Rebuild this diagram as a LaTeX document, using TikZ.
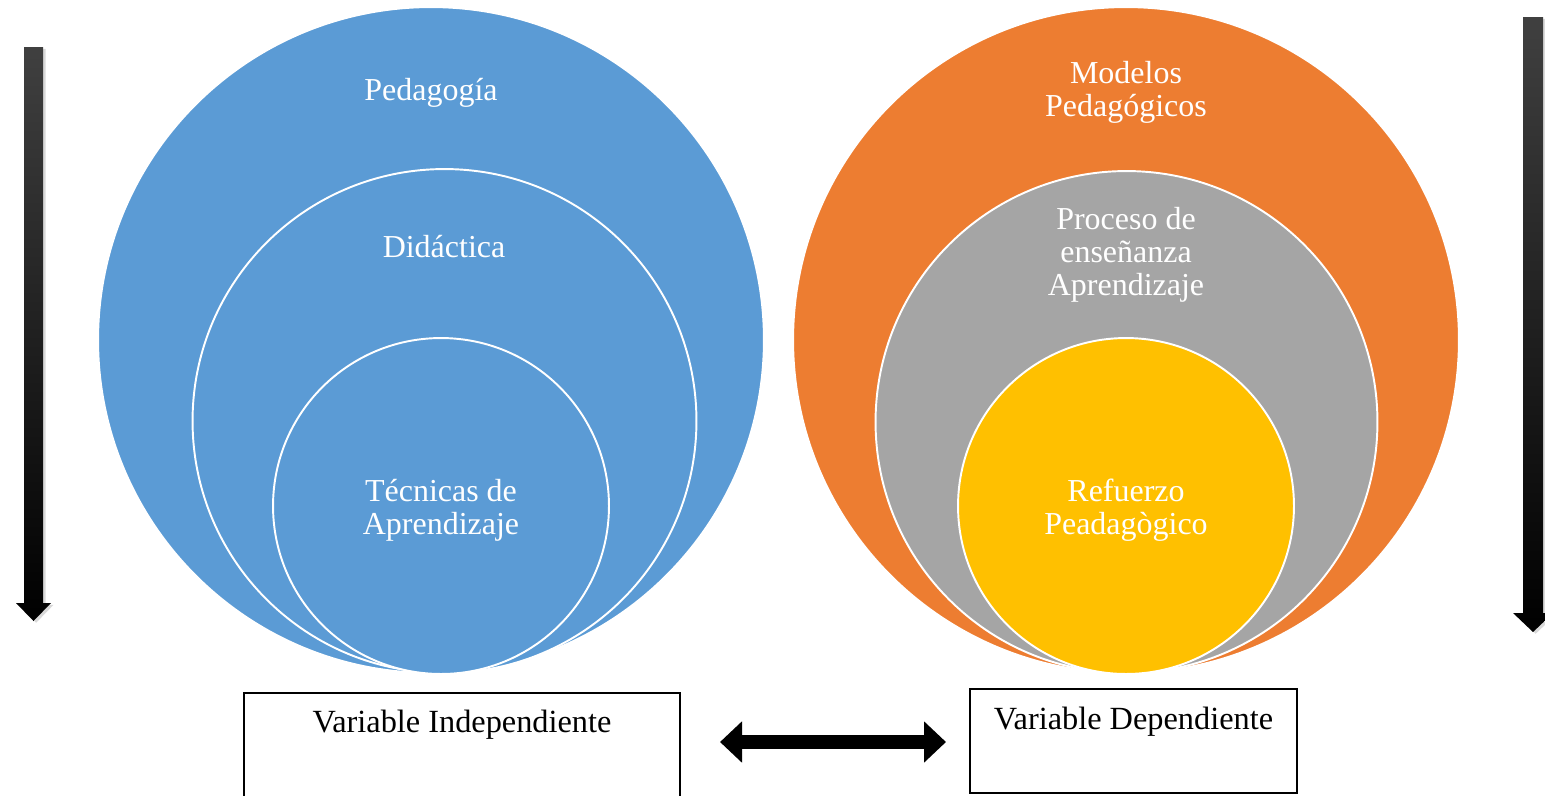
\documentclass[tikz,border=0pt]{standalone}
\usepackage{fontspec}
\setmainfont{Liberation Serif}
\usetikzlibrary{arrows.meta,shadows}
\definecolor{pedblue}{HTML}{5B9BD5}
\definecolor{modorange}{HTML}{ED7D31}
\definecolor{progray}{HTML}{A5A5A5}
\definecolor{refyellow}{HTML}{FFC000}

\begin{document}
\begin{tikzpicture}[x=0.02cm,y=-0.02cm,
  ring/.style={draw=white,line width=1.1pt},
  ctext/.style={text=white,font=\fontsize{18.2}{18.8}\selectfont,align=center,inner sep=0pt},
  varbox/.style={draw,line width=1.1pt,inner sep=0pt,font=\fontsize{18.4}{20}\selectfont,anchor=base},
  downarrow/.style={top color=black!75,middle color=black,bottom color=black,
    drop shadow={shadow xshift=1.5pt,shadow yshift=-1pt,opacity=.3}},
  biarrow/.style={line width=0.28cm,{Triangle[length=0.44cm,width=0.8cm]}-{Triangle[length=0.44cm,width=0.8cm]}}]
\useasboundingbox (0,0) rectangle (1545,795);
% independent variable circles
\filldraw[ring,fill=pedblue] (431,340) circle[radius=6.66cm];
\filldraw[ring,fill=pedblue] (444.5,421) circle[radius=5.04cm];
\filldraw[ring,fill=pedblue] (441,506) circle[radius=3.36cm];
\node[ctext] (ped) at (431,93) {Pedagogía};
\node[ctext] (did) at (444,247) {Didáctica};
\node[ctext] (tec) at (441,510) {Técnicas de\\Aprendizaje};
% dependent variable circles
\filldraw[ring,fill=modorange] (1126,340) circle[radius=6.66cm];
\filldraw[ring,fill=progray] (1126.5,422) circle[radius=5.02cm];
\filldraw[ring,fill=refyellow] (1126,506) circle[radius=3.36cm];
\node[ctext] (mod) at (1126,92) {Modelos\\Pedagógicos};
\node[ctext] (pro) at (1126,255) {Proceso de\\enseñanza\\Aprendizaje};
\node[ctext] (ref) at (1126,510) {Refuerzo\\Peadagògico};
% side arrows
\shade[downarrow] (24,47) -- (43,47) -- (43,603) -- (51,603) -- (33.5,621) -- (16,603) -- (24,603) -- cycle;
\shade[downarrow] (1523,17) -- (1543,17) -- (1543,613) -- (1553,613) -- (1533,632) -- (1513,613) -- (1523,613) -- cycle;
% variable boxes
\node[varbox,minimum width=8.72cm,text height=0.78cm,text depth=1.5cm] (vi) at (462,732) {Variable Independiente};
\node[varbox,minimum width=6.54cm,text height=0.8cm,text depth=1.28cm] (vd) at (1133.5,729) {Variable Dependiente};
\coordinate (al) at (720,742);
\coordinate (ar) at (946,742);
\draw[biarrow] (al) -- (ar);
\end{tikzpicture}
\end{document}
